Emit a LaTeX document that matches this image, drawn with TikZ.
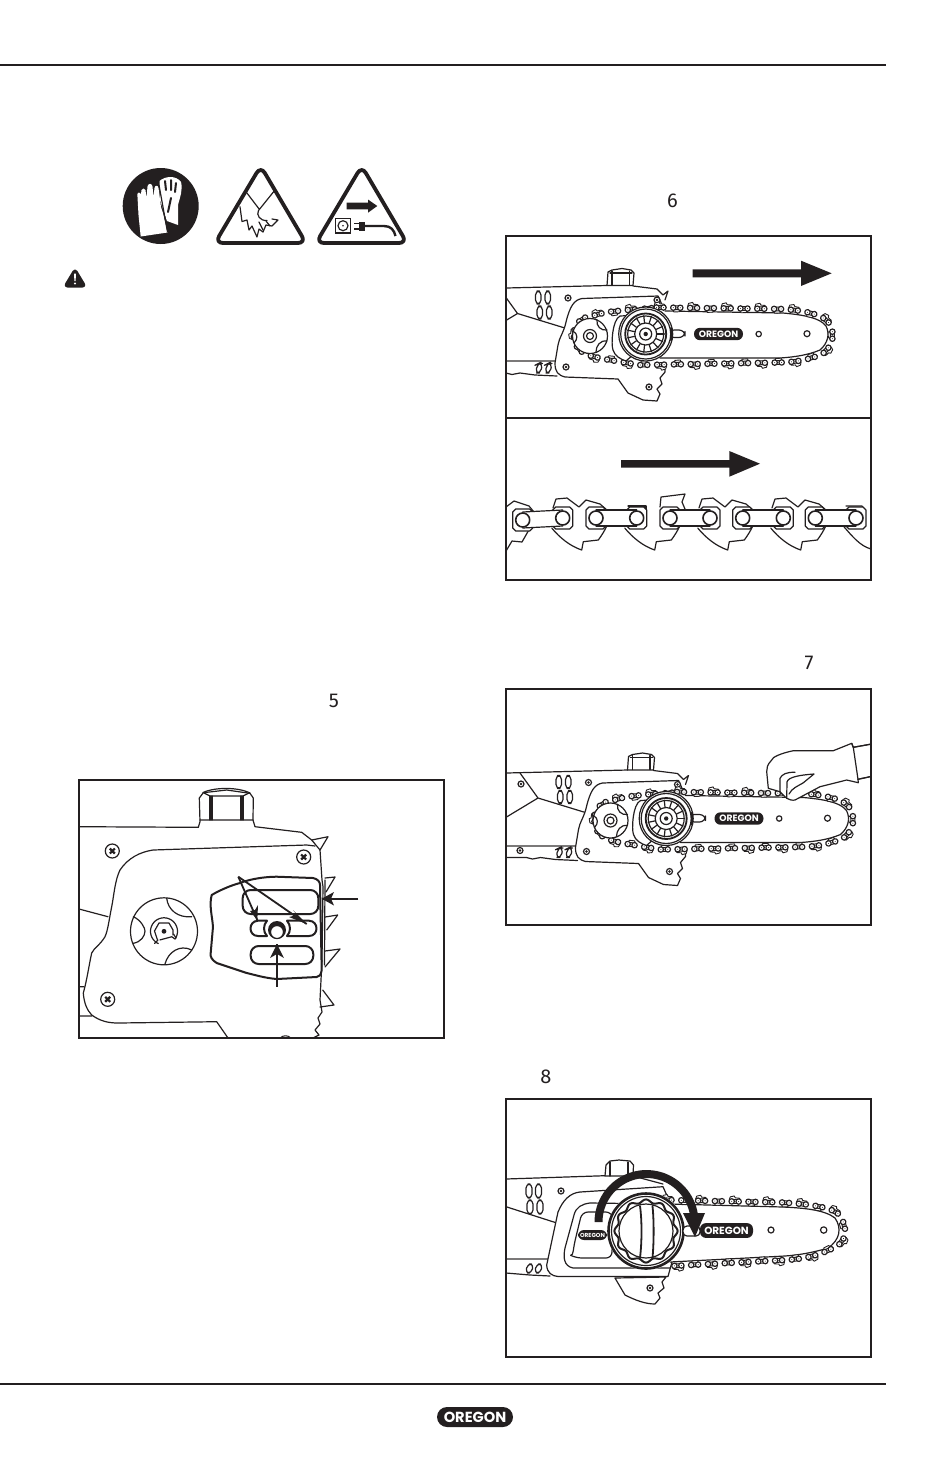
\documentclass[tikz,border=0pt]{standalone}
\usepackage{fontspec}
\setmainfont{Poppins}
\newfontfamily\numfont{Fira Sans}
\usetikzlibrary{decorations.markings}
\definecolor{ink}{HTML}{231F20}
\tikzset{
  ln/.style={draw=ink,line width=0.6pt,line join=round,line cap=round},
  thk/.style={draw=ink,line width=1pt,line join=round,line cap=round},
  frame/.style={draw=ink,line width=1.2pt},
  rule/.style={draw=ink,line width=1pt},
  num/.style={font=\numfont\fontsize{10}{12}\selectfont,text=ink,inner sep=0pt},
  logo/.style={fill=ink,text=white,rounded corners=3pt,inner sep=0pt,font=\bfseries},
  smallarrow/.style={draw=ink,line width=0.9pt},
  chainpath/.style={decorate,decoration={markings,mark=between positions 0 and 1 step 8.4pt with {\linkmark}}},
}
\newcommand\linkmark{%
  \pgfmathtruncatemacro\seq{mod(\pgfkeysvalueof{/pgf/decoration/mark info/sequence number},2)}%
  \ifnum\seq=1
    \draw[ln,line width=.45pt,fill=white] (-6,-1.5)--(-5,-4.5)--(-1,-5.5)--(0,-3.6)--(4,-3.4)--(5.5,-1.5);
  \else
    \draw[ln,line width=.45pt,fill=white] (-4,1.5)--(-3,4.3)--(2.5,4)--(3,1.5);
  \fi
  \fill[white] (-3.2,-1.9) rectangle (3.2,1.9);
  \draw[ln,line width=.5pt] (-3.2,-1.9)--(3.2,-1.9) (-3.2,1.9)--(3.2,1.9);
  \draw[ln,line width=.6pt,fill=white] (-3.5,0) circle (2.7) (3.5,0) circle (2.7);
  \fill[ink] (-3.5,0) circle (.5) (3.5,0) circle (.5);
}
\newcommand\screw[1]{%
  \draw[ln,fill=white] (#1) circle (3);
  \fill[ink] (#1) circle (1.3);
}
% saw as seen in figures 6 and 7, in the coordinates of figure 6
\newcommand\sawbody[1]{%
  \draw[ln] (486,288.5)--(607,285.5);
  \draw[ln,fill=white] (607,285.5)--(608,272)--(612,270)--(622,268.5)--(631,270)--(634,273)--(633,285.5)--cycle;
  \draw[ln] (612,271)--(612,285) (629.5,271)--(629.5,285) (610,273)--(632,273);
  \draw[ln] (633,286)--(657,289)--(663,295)--(668,291)--(665,300);
  \draw[ln] (499.5,288.5)--(517.5,313.5)--(486,332.5) (517.5,313.5)--(566.5,328.5);
  \draw[line width=1pt,draw=ink!60] (486,361)--(557,361);
  \draw[ln] (486,373) -- (506,373) -- (512,374.5)--(520,373)--(535,375)--(557,376);
  \foreach \a/\b in {535.5/291,545/291,537/306,546.5/306}{\draw[ln,rounded corners=2pt] (\a,\b) rectangle ++(5.5,13);}
  \foreach \a in {535.5,545}{\draw[ln,rounded corners=2pt] (\a+2,364)--(\a+3,363.5)--(\a+7,363.5)--(\a+5,373)--(\a,373)--cycle;}
  \screw{568,298} \screw{500.5,299.5} \screw{499.5,366}
  % guard
  \fill[white] (618,379)--(628,393)--(643,400)--(657,401)--(665,365)--cycle;
  \draw[ln] (618,379)--(628,393)--(643,400)--(657,401)--(660,394)--(657,389)--(662,384)--(660,378)--(665,372)--(665,365);
  \screw{649,387}
  % cover
  \fill[white] (663,307)--(658,296)--(582,298.5) .. controls (574,300) and (570,306) .. (566,322) .. controls (564,332) and (559,338) .. (558,345) -- (555,363) .. controls (555,372) and (558,375) .. (565,377) -- (618,379) -- (625,362) -- (665,310)--cycle;
  \draw[ln] (663,307)--(658,296)--(582,298.5) .. controls (574,300) and (570,306) .. (566,322) .. controls (564,332) and (559,338) .. (558,345) -- (555,363) .. controls (555,372) and (558,375) .. (565,377) -- (618,379);
  \screw{657,300} \screw{566,367}
  % bar
  \draw[ln,fill=white] (665,311)--(783,313) .. controls (805,315) and (820,318) .. (826,326) .. controls (830,334) and (828,343) .. (820,350) .. controls (808,355) and (795,357) .. (780,358) -- (660,358);
  \draw[ln,fill=white,rounded corners=3pt] (668,330) rectangle (685,337.5);
  \draw[ln] (758.7,334) circle (2.7) (807,333.7) circle (3);
  % chain
  \path[chainpath] (660,307.5)--(783,309) .. controls (808,311) and (824,315) .. (830,325) .. controls (835,336) and (832,346) .. (822,354) .. controls (808,360) and (795,362) .. (780,362.5) -- (668,364.5) -- (640,365) -- (610,360) .. controls (595,357) and (582,355) .. (577,346) .. controls (571,335) and (575,322) .. (585,318) -- (607,312) -- (627,310)--(660,307.5);
  % sprocket
  \draw[ln,fill=white] (590,336) circle (17.5);
  \draw[ln] (597,320) .. controls (596,326) and (601,331) .. (607,330);
  \draw[ln] (607,341) .. controls (600,340) and (596,346) .. (596,352);
  \draw[ln] (573,331) .. controls (578,334) and (578,339) .. (574,343);
  \draw[ln,fill=white] (590,336) circle (6.5);
  \draw[ln,fill=white] (590,336) circle (3.5);
  % housing and drum
  \draw[ln,fill=white] (620,316) .. controls (612,320) and (611,345) .. (613,350) .. controls (615,356) and (620,359) .. (626,361) -- (650,340) -- (640,315) -- cycle;
  \draw[ln,fill=white] (645.7,334) circle (27);
  \draw[ln] (645.7,334) circle (25);
  \draw[ln,line width=.9pt] (645.7,334) circle (20.5);
  \foreach \t in {0,24,...,336}{\draw[ln,line width=.6pt] (645.7,334)++(\t:11.5) -- ++(\t:7);}
  \draw[ln] (645.7,334) circle (18) (645.7,334) circle (11);
  \draw[ln,fill=white] (645.7,334) circle (6);
  \fill[ink] (645.7,334) circle (2.2);
  \draw[ln,line width=1pt] (671,328)--(671,340);
  \node[logo,minimum width=24.5pt,minimum height=6.2pt,font=\bfseries\fontsize{4.6}{5}\selectfont] (#1) at (718.5,334) {OREGON};
}
\begin{document}
\begin{tikzpicture}[x=0.5pt,y=-0.5pt]
\useasboundingbox (0,0) rectangle (950,1469);
% rules
\coordinate (topL) at (0,65); \coordinate (topR) at (886,65);
\coordinate (botL) at (0,1384); \coordinate (botR) at (886,1384);
\draw[rule] (topL)--(topR);
\draw[rule] (botL)--(botR);
% gloves sign
\fill[ink] (160.7,206) circle (38);
\fill[white] (159.5,181) .. controls (165,176) and (176,175) .. (181,182) .. controls (183,190) and (180,197) .. (178,205) -- (178,225) -- (167,221) -- (160,200) -- cycle;
\draw[ink,line width=1pt,line cap=round] (165,181)--(166,190) (171,180)--(171,190) (176,183)--(175,192) (171,198)--(168,212);
\fill[white] (140.7,236.5)--(167.5,232.5)--(163,213)--(161,207)--(158.5,188) .. controls (158,185) and (155,185) .. (154.5,188) -- (153.5,197) -- (152.5,186.5) .. controls (152,183) and (148,183) .. (147.5,186.5) -- (146.5,198) -- (145.5,190) .. controls (145,188) and (142,188) .. (141.5,190) -- (141,194) .. controls (138,191) and (137,193) .. (137.5,197) -- (138.5,215) -- cycle;
\draw[ink,line width=.6pt] (159,185)--(167.5,232);
% cut sign
\draw[ink,line width=1.9pt,rounded corners=4pt,line join=round] (260.7,166)--(215,243)--(306,243)--cycle;
\draw[ln] (246.7,192.7)--(259.5,209.5) (275,190)--(258.5,210.5) .. controls (256,215) and (260,221) .. (267,220.5);
\draw[ln] (240,206.7)--(242,221.5)--(247,220)--(249,230)--(252,226)--(257,237)--(259,229)--(263,232)--(266,225)--(272,226)--(278,220)--(272,219);
\draw[ln] (259,222)--(263,230) (266,221)--(270,226);
% unplug sign
\draw[ink,line width=1.9pt,rounded corners=4pt,line join=round] (361.7,166)--(316,243)--(407,243)--cycle;
\fill[ink] (346.7,202.7)--(368,202.7)--(368,199.5)--(377.3,206)--(368,212.7)--(368,209.4)--(346.7,209.4)--cycle;
\draw[ink,line width=.9pt] (335.5,218.5) rectangle (350.5,233);
\draw[ln,fill=white] (343,225.7) circle (5);
\fill[ink] (343,225.7) circle (.9);
\fill[ink] (359,221.5) rectangle (365,231);
\draw[ink,line width=.8pt] (354,223.5)--(359,223.5) (354,228.7)--(359,228.7);
\draw[ink,line width=1.2pt] (365,226)--(384,226) .. controls (391,226) and (394,230) .. (395.5,236);
% warning triangle
\draw[ink,fill=ink,line width=1pt,rounded corners=1.5pt,line join=round] (75,269)--(64.5,286.5)--(85.5,286.5)--cycle;
\fill[white] (74,273.5)--(76,273.5)--(75.6,281)--(74.4,281)--cycle (75,283.5) circle (1.2);
% numbers
\node[num] (n5) at (334,701) {5};
\node[num] (n6) at (672.5,201) {6};
\node[num] (n7) at (809,663) {7};
\node[num] (n8) at (546,1077) {8};
% ------- figure 5
\begin{scope}
\clip (79,780) rectangle (444,1038);
\draw[ln] (79,826.7)--(198.3,827.3);
\draw[ln] (198.3,827.3)--(200,821.7)--(199.3,798)--(203.3,792.7)--(226.7,790)--(250,793.3)--(253.3,798)--(253,820)--(255,826.7)--(301.7,832.3)--(311.7,840)--(328,836.7)--(320,850);
\draw[ln] (200,820)--(253,820) (204,793)--(210,796) (249,793)--(243,796) (210,796)--(243,796);
\draw[ln] (203,792.5) .. controls (215,787) and (238,787) .. (250,793);
\draw[ln] (210,796)--(210,820) (212,796)--(212,820) (243,796)--(243,820) (241,796)--(241,820);
\draw[ln] (311.7,840)--(320,850)--(322,880)--(323,886.7)--(322,960)--(320,1000)--(322,1012)--(318,1018)--(320,1024)--(315,1030)--(319,1035)--(313,1038);
\draw[ln] (325,878)--(335,877)--(326,892) (325,917)--(337.7,915)--(326.7,930) (325,951)--(340,949)--(325,967) (322.7,990)--(334,1005)--(320,1007);
\draw[ln] (325,880)--(324.5,965);
\draw[ln] (79,909)--(108,916.7) (79,986.7)--(84,986.7) (79,1016)--(91.7,1016);
\draw[ln] (315,846)--(306.7,845)--(153,850) .. controls (140,852) and (128,858) .. (120,870) .. controls (115,880) and (114,895) .. (111.7,906.7) .. controls (109,920) and (108,930) .. (105,936.7) .. controls (100,945) and (94,948) .. (91.7,953) .. controls (89,965) and (87,980) .. (83.3,993) .. controls (84,1003) and (87,1010) .. (91.7,1015) .. controls (100,1021) and (108,1023) .. (118,1023) -- (216.7,1021.7)--(228,1038);
\draw[ln,line width=.5pt] (280,1038) .. controls (283,1035) and (288,1035) .. (291,1038);
\foreach \a/\b in {112.3/851,303.7/857,107.7/999.3}{
  \draw[ln] (\a,\b) circle (7);
  \draw[ink,line width=1.1pt] (\a-2.5,\b-2.5)--(\a+2.5,\b+2.5) (\a-2.5,\b+2.5)--(\a+2.5,\b-2.5);
}
% disc
\draw[ln] (164,931.3) circle (33.5);
\draw[ln] (166.7,898.3) .. controls (168,910) and (178,918) .. (191.7,916.7);
\draw[ln] (133.3,916.7) .. controls (141,920) and (145,928) .. (145,931) .. controls (145,936) and (141,942) .. (133.3,943.3);
\draw[ln] (191.7,950) .. controls (180,944) and (168,952) .. (165,964);
\draw[ln] plot[domain=115:395,samples=40] ({164+13.5*cos(\x)},{931.3+13.5*sin(\x)}) -- plot[domain=395:115,samples=2] ({164+9.5*cos(\x)},{931.3+9.5*sin(\x)});
\draw[ln] (154.5,943.5)--(158,940) (176,938)--(173.5,934);
\draw[ln] (157.5,940)--(154.5,931)--(159,923)--(169,923)--(173,930)--(173,935);
\fill[ink] (164,931.3) circle (2.4);
% panel
\draw[thk,fill=white] (211.7,895) .. controls (220,890) and (232,885) .. (240,883) .. controls (250,879) and (265,876.7) .. (276.7,876.7) -- (313,878) .. controls (318,879) and (320,882) .. (320,885) -- (321.7,970) .. controls (321,975) and (319,977) .. (316.7,977) -- (276.7,979) .. controls (265,978) and (255,975) .. (246.7,973) -- (216.7,963) .. controls (212,960) and (210,957) .. (210.7,953) -- (213,926.7) .. controls (212,915) and (209,905) .. (211.7,895) -- cycle;
\draw[thk,rounded corners=4pt] (242.7,890) rectangle (318.3,914);
\draw[thk,rounded corners=4pt] (250.7,946) rectangle (313.3,964);
\draw[thk] (267,920.7)--(258,920.7) .. controls (248,921) and (248,936) .. (258,936) -- (267,936) .. controls (263,932) and (263,925) .. (267,920.7);
\draw[thk] (287,920.7)--(309,920.7) .. controls (319,921) and (319,936) .. (309,936) -- (287,936) .. controls (291,932) and (291,925) .. (287,920.7);
\fill[ink] (277,930) circle (9);
\draw[ln,fill=white] (277,932) circle (6.5);
% arrows
\coordinate (a0) at (238.3,876.7);
\coordinate (a1) at (257.3,920);
\coordinate (a2) at (306.7,924);
\coordinate (a3) at (358.3,898.7);
\coordinate (a3e) at (321.7,898.7);
\coordinate (a4) at (277,986.7);
\coordinate (a4e) at (277,944);
\draw[smallarrow] (a0)--(a1);
\draw[smallarrow] (a0)--(a2);
\draw[smallarrow] (a3)--(a3e);
\draw[smallarrow] (a4)--(a4e);
\fill[ink] (a3e)--(334,892)--(331,898.7)--(334,905.5)--cycle;
\fill[ink] (a4e)--(270,958)--(277,954)--(284,958)--cycle;
\fill[ink] (a1)--(250,911)--(255,910)--(258,905)--cycle;
\fill[ink] (a2)--(293,910)--(297,915)--(289,917)--cycle;
\end{scope}
\draw[frame] (79,780) rectangle (444,1038);
% ------- figure 6
\begin{scope}
\clip (506,236) rectangle (871,418);
\sawbody{lab6}
\end{scope}
\fill[ink] (692.7,269.3)--(801,269.3)--(801,260.7)--(831.7,273.3)--(801,286)--(801,277.3)--(692.7,277.3)--cycle;
\draw[frame] (506,236) rectangle (871,418);
% ------- chain close-up
\begin{scope}
\clip (506,418) rectangle (871,580);
\foreach \i in {0,1,2,3}{
  \begin{scope}[xshift=\i*73*0.5pt]
    \draw[ln,fill=white] (551.7,528) .. controls (560,538) and (570,546) .. (581.7,550) -- (583.3,541.7) -- (598.3,540) .. controls (602,535) and (605,530) .. (606.7,526);
  \end{scope}
}
\draw[ln] (843.3,526) .. controls (852,536) and (860,546) .. (871,549);
\draw[ln] (506,551) --(512,541)--(522,542)--(530,528);
\draw[ink,line width=1pt] (506,548)--(506,552);
% top teeth
\draw[ln] (506,507)--(514,501)--(529,506)--(534,512);
\foreach \i in {0,2,3}{
  \begin{scope}[xshift=\i*73*0.5pt]
    \draw[ln] (553,508)--(556,499)--(567,498)--(579,507)--(586,500)--(600,504)--(607,510);
  \end{scope}
}
\draw[ln] (628,506)--(646,506)--(646,510);
\draw[ln] (660,507)--(661,497)--(685,494)--(682,502)--(685,509)--(680,512);
\draw[ln] (846,506)--(862,506)--(865,510);
% plates
\foreach \x/\y in {522.7/520,562.7/518,596/518,636.7/518,670/518,710/518,742.7/518,783.3/518,815.3/518,856/518}{
  \draw[ln,fill=white] (\x-10,\y-8)--(\x-7,\y-11)--(\x+7,\y-11)--(\x+10,\y-8)--(\x+10,\y+8)--(\x+7,\y+11)--(\x-7,\y+11)--(\x-10,\y+8)--cycle;
}
% straps and rivets
\foreach \a/\b/\y/\z in {522.7/562.7/520/518,596/636.7/518/518,670/710/518/518,742.7/783.3/518/518,815.3/856/518/518}{
  \fill[white] (\a,\y-8) -- (\b,\z-8) -- (\b,\z+8) -- (\a,\y+8) -- cycle;
  \draw[ln] (\a,\y-8) -- (\b,\z-8) (\a,\y+8) -- (\b,\z+8);
  \draw[ln,line width=.8pt,fill=white] (\a,\y) circle (7) (\b,\z) circle (7);
}
\end{scope}
\fill[ink] (621,460)--(729.3,460)--(729.3,451)--(760,463.7)--(729.3,476.7)--(729.3,467.7)--(621,467.7)--cycle;
\draw[frame] (506,418) rectangle (871,580);
% ------- figure 7
\begin{scope}
\clip (506,689) rectangle (871,925);
\begin{scope}[shift={(20.5,484.5)}]
\sawbody{lab7}
\end{scope}
\draw[ln,fill=white] (870,744.3)--(853.3,747.3)--(851.7,743.3)--(833.3,750.7)--(793.3,750.7) .. controls (782,753) and (772,757) .. (771.7,760) .. controls (767,765) and (766.7,768) .. (766.7,771.7) -- (768.3,788.3) -- (780,791.7) -- (786.7,798.3) .. controls (789,800) and (793,800.5) .. (795,800) -- (820,786.7) -- (846.7,780) -- (858.3,782.7) -- (858,779.3) -- (870,776.7);
\fill[white] (853.3,747.5) rectangle (870,776);
\draw[ln] (870,744.3)--(853.3,747.3)--(851.7,743.3) (858,779.3)--(870,776.7);
\draw[ln] (853.3,747.3)--(858,779.3);
\draw[ln] (780,791.7)--(780,778.3) .. controls (782,774) and (787,772) .. (795,772.3);
\draw[ln] (786.7,798.3) -- (787,782) .. controls (788,777) and (800,775) .. (814,774) -- (803,783) .. controls (798,786) and (792,788) .. (789,794);
\end{scope}
\draw[frame] (506,689) rectangle (871,925);
% ------- figure 8
\begin{scope}
\clip (506,1099) rectangle (871,1357);
\draw[ln] (506,1179)--(605,1175.7) (633,1176)--(663,1184);
\draw[ln,fill=white] (605,1176)--(606,1165)--(610,1161)--(619,1160)--(630,1161)--(633.5,1165)--(633,1176)--cycle;
\draw[ln] (610,1162)--(610,1176) (628,1162)--(628,1176);
\draw[ln] (506,1206.7)--(560,1224);
\draw[line width=.9pt,draw=ink!60] (506,1259)--(550,1259);
\draw[ln] (506,1273)--(530,1275)--(550,1276);
\foreach \a/\b in {526/1184,535.5/1184,527/1200,537/1200}{\draw[ln,rounded corners=2pt] (\a,\b) rectangle ++(6,14);}
\foreach \a in {525.5,534.5}{\draw[ln,rounded corners=2pt] (\a+2,1264)--(\a+8,1264)--(\a+6,1273)--(\a,1273)--cycle;}
\screw{561,1191}
% guard
\draw[ln,fill=white] (615,1278)--(625,1295) .. controls (635,1300) and (645,1304) .. (655,1304) -- (660,1298)--(658,1293)--(664,1288)--(662,1282)--(666,1277)--cycle;
\screw{650,1288}
% cover
\draw[ln,fill=white] (668,1198)--(663,1186.7)--(580,1192) .. controls (570,1193) and (563,1200) .. (558,1212) -- (552,1240) -- (546.7,1265) .. controls (547,1273) and (552,1276) .. (558,1276.5) -- (668,1276.5)--(672,1262)--cycle;
\draw[ln] (666,1204)--(590,1203) .. controls (582,1204) and (576,1207) .. (574,1215) -- (565,1248) .. controls (563,1258) and (564,1266) .. (573,1268) -- (670,1268);
\draw[ln,rounded corners=3pt] (582,1212) -- (612,1212) -- (612,1258) -- (576,1258) .. controls (572,1256) and (573,1253) .. (574,1245) -- cycle;
% bar
\draw[ln,fill=white] (670,1204)--(783,1207) .. controls (805,1208) and (825,1210) .. (835,1218) .. controls (842,1228) and (840,1240) .. (828,1248) .. controls (815,1252) and (800,1255) .. (785,1256) -- (670,1262);
\draw[ln] (771,1230) circle (3) (823.7,1230) circle (3.2);
\path[chainpath] (668,1200)--(783,1202.5) .. controls (805,1204) and (828,1206) .. (838,1214) .. controls (848,1226) and (847,1240) .. (835,1247) .. controls (820,1255) and (805,1259) .. (785,1260) -- (672,1266);
% knob
\fill[white] (646,1231) circle (39);
\draw[thk,line width=1.3pt,fill=white] (646,1231) circle (37.5);
\draw[ln] (646,1231) circle (34.5);
\draw[thk,fill=white] plot[domain=0:360,samples=121,smooth cycle] ({646+(30+1.6*cos(12*\x))*cos(\x)},{1231+(30+1.6*cos(12*\x))*sin(\x)});
\draw[ln] (646,1231) circle (27);
\draw[thk,line width=.9pt] (640,1206) .. controls (642,1220) and (642,1242) .. (640,1258);
\draw[thk,line width=.9pt] (652.5,1206) .. controls (654,1220) and (654,1242) .. (652.5,1258);
\draw[ln,fill=white,rounded corners=2pt] (683,1226) rectangle (700,1236);
\node[logo,minimum width=26.5pt,minimum height=7.4pt,font=\bfseries\fontsize{5.2}{6}\selectfont] (lab8) at (726.5,1230.5) {OREGON};
\node[logo,minimum width=14.5pt,minimum height=5pt,font=\bfseries\fontsize{2.9}{3}\selectfont,text=white] (lab8s) at (592.5,1235) {OREGON};
% curved arrow
\fill[ink] plot[domain=180:352,samples=40] ({646.5+52*cos(\x)},{1222+52*sin(\x)}) -- plot[domain=352:180,samples=40] ({646.5+44*cos(\x)},{1222+44*sin(\x)}) -- cycle;
\fill[ink] (683,1213)--(705,1213)--(695,1237)--cycle;
\end{scope}
\draw[frame] (506,1099) rectangle (871,1357);
% footer logo
\node[logo,rounded corners=5pt,minimum width=38pt,minimum height=10pt,font=\bfseries\fontsize{7.3}{8}\selectfont] (oregon) at (475,1417) {OREGON};
\end{tikzpicture}
\end{document}
